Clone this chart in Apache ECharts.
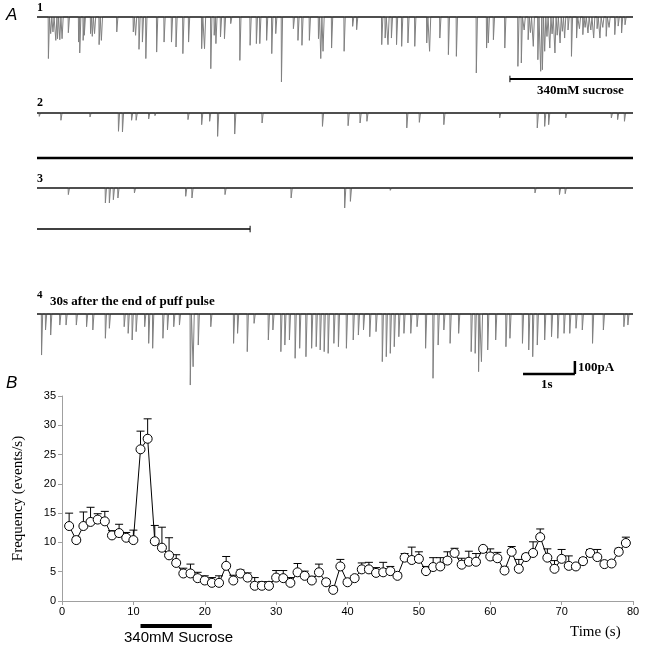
<!DOCTYPE html>
<html>
<head>
<meta charset="utf-8">
<title>Sucrose puff</title>
<script src="https://cdn.jsdelivr.net/npm/echarts@6/dist/echarts.min.js"></script>
<style>html,body{margin:0;background:#fff;}</style>
</head>
<body>
<div id="main" style="width:647px;height:656px;"></div>
<script type="text/javascript">
// panel A: events, [time s, amplitude pA]
var trace1 = [
    [0.20,320],[0.24,128],[0.28,115],[0.33,180],[0.36,167],[0.40,175],[0.44,167],[0.55,121],
    [0.73,193],[0.75,277],[0.81,180],[0.83,141],[0.94,128],[0.97,149],[1.01,128],[1.09,213],
    [1.13,180],[1.40,115],[1.69,115],[1.73,141],[1.79,249],[1.85,193],[1.91,320],[2.10,270],
    [2.23,193],[2.36,193],[2.44,231],[2.56,282],[2.66,193],[2.89,244],[2.94,244],[3.05,398],
    [3.11,141],[3.14,205],[3.22,154],[3.29,167],[3.40,51],[3.56,334],[3.74,218],[3.85,205],
    [3.91,205],[4.03,180],[4.12,282],[4.19,128],[4.29,500],[4.50,90],[4.58,180],[4.65,218],
    [4.78,180],[4.94,167],[4.98,320],[5.02,264],[5.17,239],[5.39,264],[5.54,72],[5.61,98],
    [6.05,213],[6.11,162],[6.16,213],[6.22,162],[6.31,213],[6.40,226],[6.51,200],[6.63,226],
    [6.84,200],[6.89,264],[7.07,162],[7.22,290],[7.36,303],[7.71,431],[7.89,239],[7.92,200],
    [8.01,175],[8.21,239],[8.44,380],[8.50,354],[8.55,100],[8.62,175],[8.66,120],[8.71,226],
    [8.79,329],[8.84,418],[8.87,406],[8.91,264],[8.95,150],[9.00,239],[9.04,130],[9.09,277],
    [9.13,140],[9.18,200],[9.22,110],[9.26,162],[9.32,100],[9.38,303],[9.47,162],[9.52,90],
    [9.58,136],[9.62,80],[9.67,123],[9.72,100],[9.77,162],[9.83,90],[9.88,162],[9.93,80],
    [9.99,149],[10.04,80],[10.14,136],[10.20,70],[10.26,123],[10.32,60]
];
var trace2 = [
    [0.04,26],[0.42,56],[0.93,31],[1.43,141],[1.50,146],[1.66,56],[1.74,56],[1.96,46],
    [2.07,21],[2.65,51],[2.89,90],[3.03,64],[3.17,180],[3.47,162],[3.95,77],[5.01,103],
    [5.46,98],[5.67,77],[5.79,64],[6.49,115],[6.71,72],[7.14,90],[8.12,38],[8.78,115],
    [8.91,103],[8.98,90],[9.28,38],[10.08,38],[10.19,51],[10.31,64]
];
var trace3 = [
    [0.55,51],[1.20,115],[1.27,115],[1.34,90],[1.42,77],[1.71,38],[2.61,64],[2.72,77],
    [3.30,51],[4.46,77],[5.40,154],[5.50,103],[6.20,18],[8.74,38],[9.17,51],[9.27,44]
];
var trace4 = [
    [0.08,316],[0.15,123],[0.24,162],[0.40,85],[0.51,85],[0.69,85],[0.87,98],[0.98,123],
    [1.20,187],[1.27,110],[1.53,98],[1.60,149],[1.67,200],[1.74,136],[1.89,98],[1.96,226],
    [2.03,264],[2.21,187],[2.29,123],[2.40,98],[2.50,85],[2.69,547],[2.74,406],[2.83,239],
    [3.05,98],[3.45,226],[3.52,149],[3.69,290],[3.81,72],[4.06,200],[4.14,123],[4.28,290],
    [4.35,239],[4.43,200],[4.53,341],[4.61,264],[4.72,329],[4.82,264],[4.90,252],[4.97,277],
    [5.04,290],[5.11,303],[5.21,226],[5.29,252],[5.43,264],[5.55,200],[5.64,162],[5.73,123],
    [5.84,175],[5.95,136],[6.06,367],[6.13,329],[6.20,303],[6.27,252],[6.35,175],[6.44,149],
    [6.56,149],[6.67,98],[6.82,264],[6.95,495],[7.04,239],[7.14,123],[7.25,226],[7.40,149],
    [7.62,290],[7.69,303],[7.75,444],[7.80,367],[7.91,277],[8.05,200],[8.23,252],[8.30,187],
    [8.52,226],[8.63,277],[8.70,329],[8.78,239],[8.91,200],[9.03,175],[9.14,187],[9.25,149],
    [9.35,149],[9.46,110],[9.57,123],[9.75,226],[9.94,123],[10.30,98],[10.37,85]
];
var traceEnd = 10.46;
var sucrose1 = [8.30, 10.46];   // puff bar under trace 1
var sucrose2 = [0, 10.46];      // under trace 2
var sucrose3 = [0, 3.74];       // under trace 3
var scaleTime = [8.53, 9.44];   // 1 s bar
var scaleAmp = 100;             // pA

// panel B: mean frequency (events/s) and SEM
var time = [1,2,3,4,5,6,7,8,9,10,11,12,13,14,15,16,17,18,19,20,21,22,23,24,25,26,27,28,29,30,
    31,32,33,34,35,36,37,38,39,40,41,42,43,44,45,46,47,48,49,50,51,52,53,54,55,56,57,58,59,60,
    61,62,63,64,65,66,67,68,69,70,71,72,73,74,75,76,77,78,79];
var freq = [12.8,10.4,12.8,13.5,13.9,13.6,11.2,11.6,10.8,10.4,25.9,27.7,10.2,9.1,7.8,6.5,4.7,4.7,3.9,3.5,
    3.1,3.1,6.0,3.5,4.7,4.0,2.6,2.6,2.6,4.0,3.9,3.1,4.9,4.3,3.5,4.9,3.2,1.9,5.9,3.2,
    3.9,5.4,5.4,4.8,4.9,5.1,4.3,7.4,7.0,7.2,5.1,5.8,5.9,6.9,8.2,6.2,6.7,6.7,8.9,7.6,
    7.3,5.2,8.4,5.5,7.5,8.2,10.9,7.4,5.5,7.2,6.0,5.9,6.8,8.2,7.5,6.3,6.4,8.4,9.9];
var sem = [2.2,0.5,2.4,2.5,1.0,1.7,0.8,1.5,0.9,1.7,3.1,3.4,2.7,3.5,3.0,1.4,0.9,1.6,1.0,0.8,
    0.9,1.2,1.6,0.9,0.6,0.8,1.4,0.7,0.7,1.2,1.3,0.9,1.5,0.8,0.7,1.4,0.5,0.6,1.2,0.5,
    0.4,1.1,1.2,0.9,1.7,0.8,0.5,0.7,2.2,1.2,0.8,1.6,1.5,1.5,0.8,1.1,1.8,1.4,0.4,1.3,
    1.0,0.6,0.9,1.6,0.5,1.9,1.4,1.5,1.4,1.6,1.7,0.5,0.5,0.6,1.3,0.5,0.5,0.6,1.0];
var sucroseB = [11, 21];
var xTicks = [0, 10, 20, 30, 40, 50, 60, 70, 80];
var yTicks = [0, 5, 10, 15, 20, 25, 30, 35];

var serif = 'Liberation Serif';
var sans = 'Liberation Sans';
var myChart = echarts.init(document.getElementById('main'));

// spike trace from events
function spikes(ev) {
    var pts = [[0, 0]];
    ev.slice().sort(function (a, b) { return a[0] - b[0]; }).forEach(function (e) {
        pts.push([e[0] - 0.004, 0], [e[0], -e[1]], [e[0] + 0.02, 0]);
    });
    pts.push([traceEnd, 0]);
    return pts;
}

// trace grids: baseline at grid top, 7.7 pA per px
var traceGrids = [
    {top: 17, height: 70},
    {top: 113, height: 50},
    {top: 188, height: 45},
    {top: 314, height: 75}
];
var grids = [], xAxes = [], yAxes = [], series = [];
traceGrids.forEach(function (g, i) {
    grids.push({left: 37, right: 14, top: g.top, height: g.height});
    xAxes.push({type: 'value', gridIndex: i, min: 0, max: traceEnd, show: false});
    yAxes.push({type: 'value', gridIndex: i, min: -g.height * 7.7, max: 0, show: false});
});
[trace1, trace2, trace3, trace4].forEach(function (ev, i) {
    series.push({
        type: 'line', xAxisIndex: i, yAxisIndex: i, data: spikes(ev),
        showSymbol: false, silent: true, clip: false,
        lineStyle: {color: '#808080', width: 1}
    });
    series.push({
        type: 'line', xAxisIndex: i, yAxisIndex: i, data: [[0, 0], [traceEnd, 0]],
        showSymbol: false, silent: true, clip: false,
        lineStyle: {color: '#2a2a2a', width: 1.5}
    });
});

function hbar(idx, range, y, w, endTick) {
    series.push({
        type: 'line', xAxisIndex: idx, yAxisIndex: idx, data: [[range[0], y], [range[1], y]],
        showSymbol: false, silent: true, clip: false, lineStyle: {color: '#000', width: w}
    });
    if (endTick !== null) {
        series.push({
            type: 'line', xAxisIndex: idx, yAxisIndex: idx,
            data: [[endTick, y - 25], [endTick, y + 25]], showSymbol: false,
            silent: true, clip: false, lineStyle: {color: '#000', width: 1}
        });
    }
}
hbar(0, sucrose1, -477, 2, sucrose1[0]);
hbar(1, sucrose2, -347, 2.5, null);
hbar(2, sucrose3, -316, 1.5, sucrose3[1]);
// scale bar on trace 4
hbar(3, scaleTime, -462, 2.5, null);
series.push({
    type: 'line', xAxisIndex: 3, yAxisIndex: 3,
    data: [[scaleTime[1], -462], [scaleTime[1], -462 + scaleAmp]], showSymbol: false,
    silent: true, clip: false, lineStyle: {color: '#000', width: 2.5}
});

// panel B
grids.push({left: 62, right: 14, top: 396, bottom: 55});
xAxes.push({
    type: 'value', gridIndex: 4, min: xTicks[0], max: xTicks[xTicks.length - 1], interval: 10,
    axisLine: {lineStyle: {color: '#a0a0a0'}},
    axisTick: {length: 4, lineStyle: {color: '#a0a0a0'}},
    axisLabel: {color: '#000', fontFamily: sans, fontSize: 11, margin: 5},
    splitLine: {show: false}
});
yAxes.push({
    type: 'value', gridIndex: 4, min: yTicks[0], max: yTicks[yTicks.length - 1], interval: 5,
    name: 'Frequency (events/s)', nameLocation: 'middle', nameGap: 36, nameRotate: 90,
    nameTextStyle: {fontFamily: serif, fontSize: 15, color: '#000'},
    axisLine: {show: true, lineStyle: {color: '#a0a0a0'}},
    axisTick: {show: true, length: 4, lineStyle: {color: '#a0a0a0'}},
    axisLabel: {color: '#000', fontFamily: sans, fontSize: 11, margin: 6},
    splitLine: {show: false}
});
var pts = time.map(function (t, i) { return [t, freq[i], sem[i]]; });
series.push({
    type: 'custom', xAxisIndex: 4, yAxisIndex: 4, data: pts, silent: true,
    encode: {x: 0, y: 1},
    renderItem: function (params, api) {
        var p0 = api.coord([api.value(0), api.value(1)]);
        var p1 = api.coord([api.value(0), api.value(1) + api.value(2)]);
        return {type: 'group', children: [
            {type: 'line', shape: {x1: p0[0], y1: p0[1], x2: p1[0], y2: p1[1]}, style: {stroke: '#000', lineWidth: 1}},
            {type: 'line', shape: {x1: p1[0] - 4, y1: p1[1], x2: p1[0] + 4, y2: p1[1]}, style: {stroke: '#000', lineWidth: 1}}
        ]};
    }
});
series.push({
    type: 'line', xAxisIndex: 4, yAxisIndex: 4, data: pts, silent: true,
    symbol: 'circle', symbolSize: 9, showAllSymbol: true,
    lineStyle: {color: '#000', width: 1},
    itemStyle: {color: '#fff', borderColor: '#000', borderWidth: 1}
});
// sucrose bar under the time axis
series.push({
    type: 'custom', xAxisIndex: 4, yAxisIndex: 4, data: [sucroseB], silent: true, clip: false,
    renderItem: function (params, api) {
        var a = api.coord([api.value(0), 0]);
        var b = api.coord([api.value(1), 0]);
        return {type: 'rect', shape: {x: a[0], y: a[1] + 23, width: b[0] - a[0], height: 4}, style: {fill: '#000'}};
    }
});

var txt = function (x, y, s, font, size, extra) {
    return {type: 'text', left: x, top: y, style: {text: s, fill: '#000', font: (extra || '') + ' ' + size + 'px "' + font + '"'}};
};

var option = {
    animation: false,
    backgroundColor: '#fff',
    grid: grids,
    xAxis: xAxes,
    yAxis: yAxes,
    series: series,
    graphic: [
        txt(6, 7, 'A', sans, 17, 'italic'),
        txt(37, 2, '1', serif, 12, 'bold'),
        txt(537, 84, '340mM sucrose', serif, 13, 'bold'),
        txt(37, 97, '2', serif, 12, 'bold'),
        txt(37, 173, '3', serif, 12, 'bold'),
        txt(37, 290, '4', serif, 11, 'bold'),
        txt(50, 295, '30s after the end of puff pulse', serif, 13, 'bold'),
        txt(578, 361, '100pA', serif, 13, 'bold'),
        txt(541, 378, '1s', serif, 13, 'bold'),
        txt(6, 375, 'B', sans, 17, 'italic'),
        txt(124, 630, '340mM Sucrose', sans, 15),
        txt(570, 625, 'Time (s)', serif, 15)
    ]
};
myChart.setOption(option);
</script>
</body>
</html>
